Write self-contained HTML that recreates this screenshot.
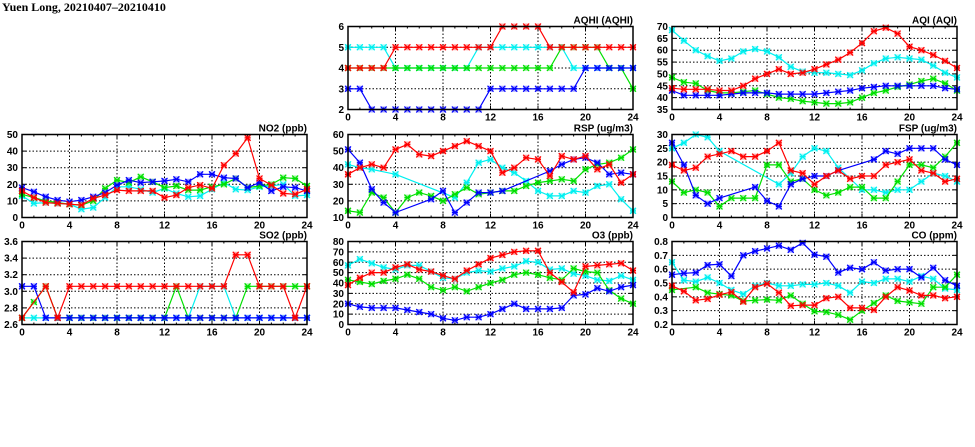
<!DOCTYPE html>
<html><head><meta charset="utf-8"><style>
html,body{margin:0;padding:0;background:#fff;width:975px;height:447px;overflow:hidden}
svg{display:block}
</style></head><body>
<svg id="s" width="975" height="447" xmlns="http://www.w3.org/2000/svg">
<text x="2" y="11" font-family="Liberation Serif, serif" font-weight="bold" font-size="12">Yuen Long, 20210407–20210410</text>
</svg>
<script>
var N=null;
var P=[
{t:"AQHI (AQHI)",x:348,y:26.5,min:2,max:6,step:1,dec:0,s:{
c:[5,5,5,5,4,4,4,4,4,4,4,5,5,5,5,5,5,5,5,4,4,4,4,4,4],
g:[4,4,4,4,4,4,4,4,4,4,4,4,4,4,4,4,4,4,5,5,5,5,4,4,3],
b:[3,3,2,2,2,2,2,2,2,2,2,2,3,3,3,3,3,3,3,3,4,4,4,4,4],
r:[4,4,4,4,5,5,5,5,5,5,5,5,5,6,6,6,6,5,5,5,5,5,5,5,5]}},
{t:"AQI (AQI)",x:672,y:26.5,min:35,max:70,step:5,dec:0,s:{
c:[68.5,64,60,57.5,55.5,56.5,59.5,60.5,59.5,57,53,51,50.5,50.5,50,49.5,51.5,54.5,56.5,57,56.5,56,53.5,50.5,48.5],
g:[48.5,46.5,46,43,42,42,42.5,43,41.5,40,39.5,38.5,38,37.5,37.5,38,40,42,43,44.5,45.5,47,48,46,43],
b:[43,41,41,41,41,41.5,42,42,42,41.5,41.5,41.5,41.5,42,42.5,43,44,44.5,45,45,45,45,45,44,43.5],
r:[44,43.5,43.5,43.5,43,43,45,48,50,52,50,50.5,52,54,56,59,63,68,69.5,67,61.5,60,58,55.5,52.5]}},
{t:"NO2 (ppb)",x:22,y:134.5,min:0,max:50,step:10,dec:0,s:{
c:[13,8.5,9,8.5,8,5,6,12,18.5,18.5,17,15,17.5,14.5,12.5,13,17,21,17,16.5,18.5,19,20,13,13.5],
g:[14,12,10,9,8,7.5,10,17.5,22.5,21,24.5,21.5,18,19,16.5,16.5,18.5,20,23.5,18,19,20,24,23.5,19],
b:[18,15.5,12.5,10.5,9.5,10.5,12.5,15,19.5,22.5,21,21.5,22,23,21.5,26,26,24,23.5,18,21,16,18.5,18,16],
r:[16,12,9,8.5,8,7.5,11.5,13.5,16.5,16,16,16,12,13.5,18,19.5,17.5,31.5,38.5,48,23.5,19.5,14.5,14,17]}},
{t:"RSP (ug/m3)",x:348,y:134.5,min:10,max:60,step:10,dec:0,s:{
c:[42,40,39,N,36,N,N,N,N,22,31,43,45,40,37,32,26,23,23,26,25,29,30,21,14],
g:[14,13,25,22,13,22,25,23,20,24,28,24,25,26,26,29,31,32,33,32,39,42,43,46,51],
b:[51,43,27,19,13,N,N,21,26,13,19,25,25,26,N,N,N,38,42,45,46,43,36,37,36],
r:[36,40,42,40,51,54,48,47,50,53,56,53,50,37,40,46,45,35,47,45,47,39,42,31,36]}},
{t:"FSP (ug/m3)",x:672,y:134.5,min:0,max:30,step:5,dec:0,s:{
c:[25,27,30,29,24,N,N,N,N,12,16,22,25,24,18,N,10,10,9,10,10,13,16,15,13],
g:[13,9,10,9,4,7,7,7,19,19,13,14,10,8,9,11,11,7,7,13,19,19,18,22,27],
b:[27,19,8,5,7,N,N,11,6,4,12,14,15,15,17,N,N,21,24,23,25,25,25,21,19],
r:[19,17,18,22,23,24,22,22,24,27,17,16,12,15,17,14,15,15,19,20,21,17,16,13,14]}},
{t:"SO2 (ppb)",x:22,y:241.5,min:2.6,max:3.6,step:0.2,dec:1,s:{
c:[2.68,2.68,2.68,2.68,2.68,2.68,2.68,2.68,2.68,2.68,2.68,2.68,2.68,2.68,2.68,3.06,3.06,3.06,2.68,2.68,2.68,2.68,2.68,2.68,2.68],
g:[2.68,2.87,3.06,2.68,2.68,2.68,2.68,2.68,2.68,2.68,2.68,2.68,2.68,3.06,2.68,2.68,2.68,2.68,2.68,3.06,3.06,3.06,3.06,3.06,3.06],
b:[3.06,3.06,2.68,2.68,2.68,2.68,2.68,2.68,2.68,2.68,2.68,2.68,2.68,2.68,2.68,2.68,2.68,2.68,2.68,2.68,2.68,2.68,2.68,2.68,2.68],
r:[2.68,N,3.06,2.68,3.06,3.06,3.06,3.06,3.06,3.06,3.06,3.06,3.06,3.06,3.06,3.06,3.06,3.06,3.44,3.44,3.06,3.06,3.06,2.68,3.06]}},
{t:"O3 (ppb)",x:348,y:241.5,min:0,max:80,step:10,dec:0,s:{
c:[57,63,59,55,53,57,57,51,45,44,50,52,51,54,56,61,60,53,54,49,47,43,42,47,43],
g:[43,41,39,42,44,48,44,36,33,36,32,36,40,43,48,50,48,45,43,54,51,50,33,25,20],
b:[20,17,16,16,16,14,12,10,6,4,7,7,10,15,20,15,15,15,16,28,29,35,32,36,38],
r:[38,45,50,50,55,58,53,51,47,44,52,58,64,67,70,71,71,50,41,31,56,57,58,59,52]}},
{t:"CO (ppm)",x:672,y:241.5,min:0.2,max:0.8,step:0.1,dec:1,s:{
c:[.65,.52,.51,.54,.50,.45,.42,.48,.50,.48,.48,.49,.49,.50,.48,.43,.51,.50,.53,.53,.51,.55,.53,.46,.45],
g:[.45,N,.47,.43,.42,.41,.37,.375,.38,.375,.41,.35,.295,.29,.27,.235,.30,.355,.41,.37,.36,.35,.47,.47,.56],
b:[.56,.57,.575,.63,.635,.55,.70,.73,.75,.77,.74,.79,.705,.69,.575,.61,.60,.65,.59,.60,.60,.54,.61,.52,.48],
r:[.48,.44,.375,.385,.415,.435,.365,.47,.495,.43,.335,.34,.34,.39,.40,.32,.32,.305,.40,.47,.445,.41,.41,.39,.40]}}
];
var COL={c:"#00f0f0",g:"#00e000",b:"#0000ff",r:"#ff0000"};
var W=285,H=83,o=[];
P.forEach(function(p){
 var X=function(i){return p.x+i*W/24},Y=function(v){return p.y+H-(v-p.min)/(p.max-p.min)*H};
 var nt=Math.round((p.max-p.min)/p.step);
 for(var k=0;k<=nt;k++){var v=p.min+k*p.step,y=Y(v);
  if(k>0&&k<nt)o.push('<line x1="'+p.x+'" x2="'+(p.x+W)+'" y1="'+y+'" y2="'+y+'" stroke="#000" stroke-width="1" stroke-dasharray="1.5,2"/>');
  o.push('<line x1="'+p.x+'" x2="'+(p.x+4)+'" y1="'+y+'" y2="'+y+'" stroke="#000"/><line x1="'+(p.x+W-4)+'" x2="'+(p.x+W)+'" y1="'+y+'" y2="'+y+'" stroke="#000"/>');
  o.push('<text x="'+(p.x-4)+'" y="'+(y+3.5)+'" text-anchor="end" font-size="10" font-weight="bold" font-family="Liberation Sans, sans-serif">'+v.toFixed(p.dec)+'</text>');
 }
 for(var i=0;i<=24;i++){var x=X(i);
  if(i%4==0){ if(i>0&&i<24)o.push('<line x1="'+x+'" x2="'+x+'" y1="'+p.y+'" y2="'+(p.y+H)+'" stroke="#000" stroke-dasharray="1.5,2"/>');
   o.push('<text x="'+x+'" y="'+(p.y+H+11)+'" text-anchor="middle" font-size="10" font-weight="bold" font-family="Liberation Sans, sans-serif">'+i+'</text>');}
  var L=i%4==0?4:2;
  o.push('<line x1="'+x+'" x2="'+x+'" y1="'+(p.y+H-L)+'" y2="'+(p.y+H)+'" stroke="#000"/><line x1="'+x+'" x2="'+x+'" y1="'+p.y+'" y2="'+(p.y+L)+'" stroke="#000"/>');
 }
 o.push('<text x="'+(p.x+W)+'" y="'+(p.y-3)+'" text-anchor="end" font-size="10" font-weight="bold" font-family="Liberation Sans, sans-serif">'+p.t+'</text>');
 ["c","g","b","r"].forEach(function(k){var d=p.s[k],pts=[],m=[];
  d.forEach(function(v,i){if(v!==null){var x=X(i),y=Y(v);pts.push(x.toFixed(1)+","+y.toFixed(1));
   m.push('<rect x="'+(x-3)+'" y="'+(y-3)+'" width="6" height="6" fill="'+COL[k]+'" opacity="0.35"/><path d="M'+(x-3)+' '+(y-3)+'L'+(x+3)+' '+(y+3)+'M'+(x-3)+' '+(y+3)+'L'+(x+3)+' '+(y-3)+'M'+(x-3)+' '+y+'L'+(x+3)+' '+y+'" stroke="'+COL[k]+'" stroke-width="1.2"/>');}});
  o.push('<polyline points="'+pts.join(" ")+'" fill="none" stroke="'+COL[k]+'" stroke-width="1.2"/>'+m.join(""));
 });
 o.push('<rect x="'+p.x+'" y="'+p.y+'" width="'+W+'" height="'+H+'" fill="none" stroke="#000" stroke-width="1.5"/>');
});
document.getElementById("s").insertAdjacentHTML("beforeend",o.join(""));
</script>
</body></html>
